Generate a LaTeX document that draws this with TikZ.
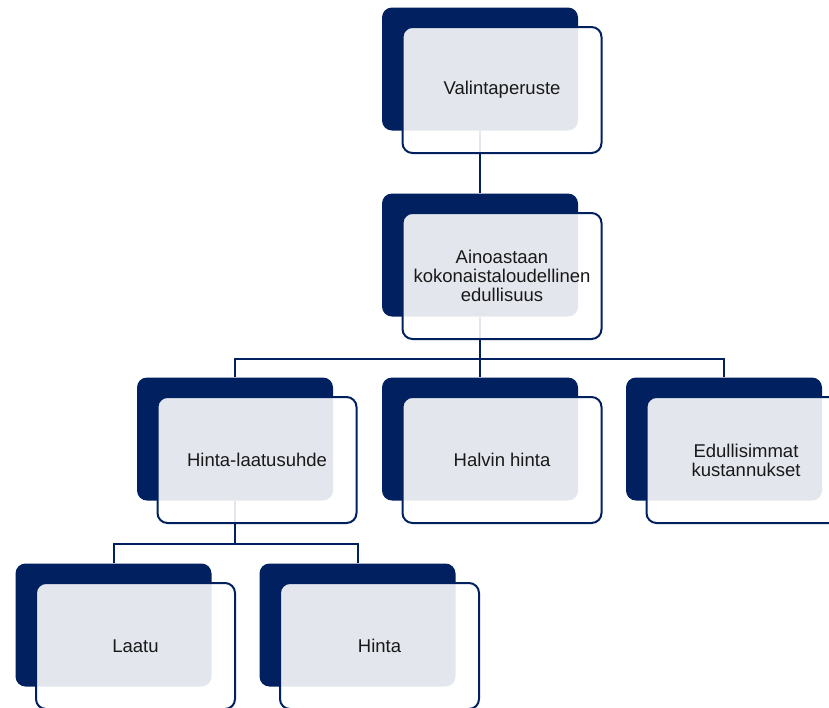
\documentclass[tikz,border=0pt]{standalone}
\usepackage{fontspec}
\setmainfont{Liberation Sans}
\usetikzlibrary{calc}
\usetikzlibrary{backgrounds}
\definecolor{navy}{RGB}{0,32,96}
\tikzstyle{back} = [rectangle, fill=navy, rounded corners=5pt,
    minimum width=98pt, minimum height=61.5pt, inner sep=0pt]
\tikzstyle{front} = [rectangle, draw=navy, line width=1pt, fill=white,
    fill opacity=0.89, text opacity=1, rounded corners=5pt,
    minimum width=99.5pt, minimum height=63pt, inner sep=0pt,
    align=center, text=black!90, font=\fontsize{9.25}{9.6}\selectfont]
\tikzstyle{link} = [draw=navy, line width=1pt]

\begin{document}
\begin{tikzpicture}[x=0.5pt,y=-0.5pt]
    \path[use as bounding box, clip] (0,0) rectangle (829,707);

    \node[back] (valb) at (480,69) {};
    \node[front] (valf) at ($(valb)+(22,21)$) {Valintaperuste};

    \node[back] (ainb) at (480,255) {};
    \node[front] (ainf) at ($(ainb)+(22,21)$) {Ainoastaan\\kokonaistaloudellinen\\edullisuus};

    \node[back] (hinlaab) at (235,439) {};
    \node[front] (hinlaaf) at ($(hinlaab)+(22,21)$) {Hinta-laatusuhde};

    \node[back] (halvb) at (480,439) {};
    \node[front] (halvf) at ($(halvb)+(22,21)$) {Halvin hinta};

    \node[back] (edulb) at (724,439) {};
    \node[front] (edulf) at ($(edulb)+(22,21)$) {Edullisimmat\\kustannukset};

    \node[back] (laatub) at (113.5,625) {};
    \node[front] (laatuf) at ($(laatub)+(22,21)$) {Laatu};

    \node[back] (hintab) at (357.5,625) {};
    \node[front] (hintaf) at ($(hintab)+(22,21)$) {Hinta};

    % connectors behind the boxes
    \begin{scope}[on background layer]
        \coordinate (ainbus) at ($(ainf.south)!0.5!(halvb.north)$);
        \coordinate (hinbus) at ($(hinlaaf.south)!0.5!(laatub.north)$);

        \draw[link] (valb.south) -- (ainb.north);
        \draw[link] (ainb.south) -- (halvb.north);
        \draw[link] (hinlaab.north) |- (ainbus) -| (edulb.north);

        \draw[link] (hinlaab.south) -- (hinbus -| hinlaab);
        \draw[link] (laatub.north) |- (hinbus) -| (hintab.north);
    \end{scope}
\end{tikzpicture}
\end{document}
